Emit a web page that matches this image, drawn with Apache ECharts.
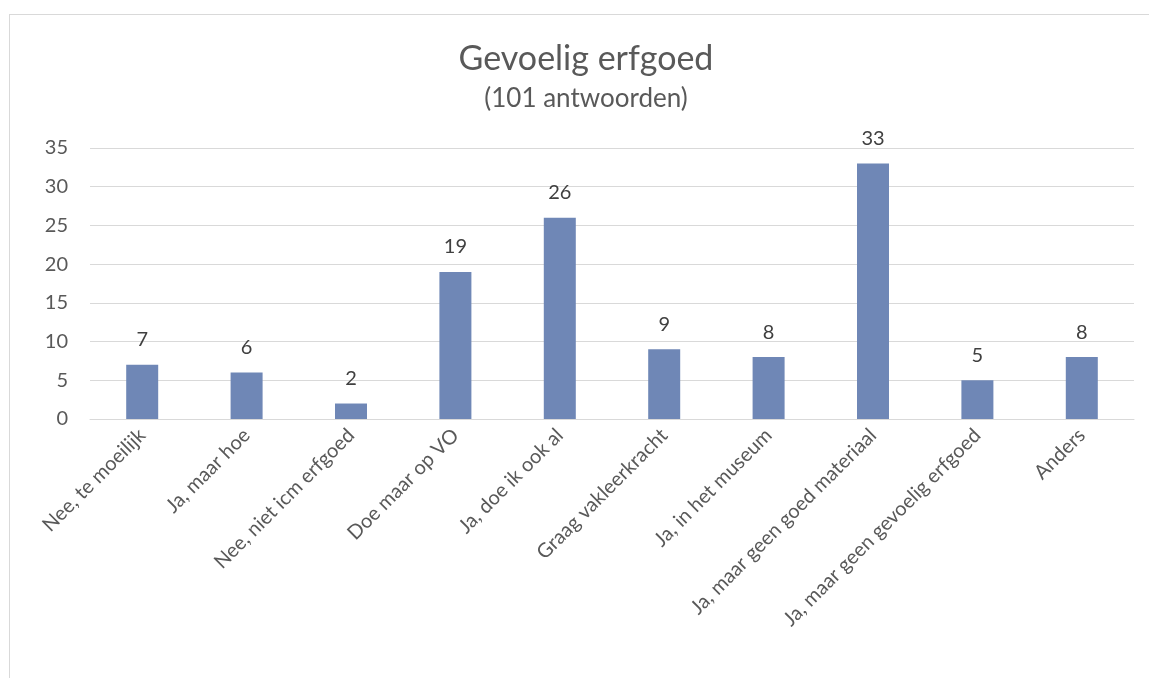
<!DOCTYPE html>
<html>
<head>
	<meta charset="utf-8">
	<title>Gevoelig erfgoed</title>
	<style>
		* {
			margin: 0px;
			padding: 0px;
		}
		body {
			background: #fff;
			overflow: hidden;
		}
		#chart {
			position: absolute;
			left: 9px;
			top: 14px;
			width: 1152px;
			height: 700px;
			border: 1px solid #d9d9d9;
		}
	</style>
</head>
<body>
	<div id="chart"></div>
	<script src="https://cdn.jsdelivr.net/npm/echarts@6/dist/echarts.min.js"></script>
	<script type="text/javascript">
		var categories = [
			'Nee, te moeilijk',
			'Ja, maar hoe',
			'Nee, niet icm erfgoed',
			'Doe maar op VO',
			'Ja, doe ik ook al',
			'Graag vakleerkracht',
			'Ja, in het museum',
			'Ja, maar geen goed materiaal',
			'Ja, maar geen gevoelig erfgoed',
			'Anders'
		];
		var answers = [7, 6, 2, 19, 26, 9, 8, 33, 5, 8];

		var myChart = echarts.init(document.getElementById('chart'));

		var font = 'Lato, "Open Sans", sans-serif';

		var option = {
			animation: false,
			title: {
				text: 'Gevoelig erfgoed',
				subtext: '(101 antwoorden)',
				left: 'center',
				top: 22,
				itemGap: 10,
				textStyle: {
					fontFamily: font,
					fontSize: 34,
					fontWeight: 'normal',
					color: '#595959'
				},
				subtextStyle: {
					fontFamily: font,
					fontSize: 26,
					color: '#595959'
				}
			},
			grid: {
				left: 80,
				right: 28,
				top: 133,
				bottom: 296
			},
			xAxis: {
				type: 'category',
				data: categories,
				axisLine: {
					lineStyle: { color: '#d9d9d9', width: 1 }
				},
				axisTick: { show: false },
				axisLabel: {
					interval: 0,
					rotate: 45,
					margin: 13,
					fontFamily: font,
					fontSize: 20,
					color: '#595959'
				}
			},
			yAxis: {
				type: 'value',
				min: 0,
				max: 35,
				interval: 5,
				axisLine: { show: false },
				axisTick: { show: false },
				splitLine: {
					lineStyle: { color: '#d9d9d9', width: 1 }
				},
				axisLabel: {
					margin: 22,
					fontFamily: font,
					fontSize: 20,
					color: '#595959'
				}
			},
			series: [{
				type: 'bar',
				data: answers,
				barWidth: 32,
				itemStyle: {
					color: '#6f87b6'
				},
				label: {
					show: true,
					position: 'top',
					distance: 15,
					fontFamily: font,
					fontSize: 20,
					color: '#404040'
				}
			}]
		};

		myChart.setOption(option);
	</script>
</body>
</html>
